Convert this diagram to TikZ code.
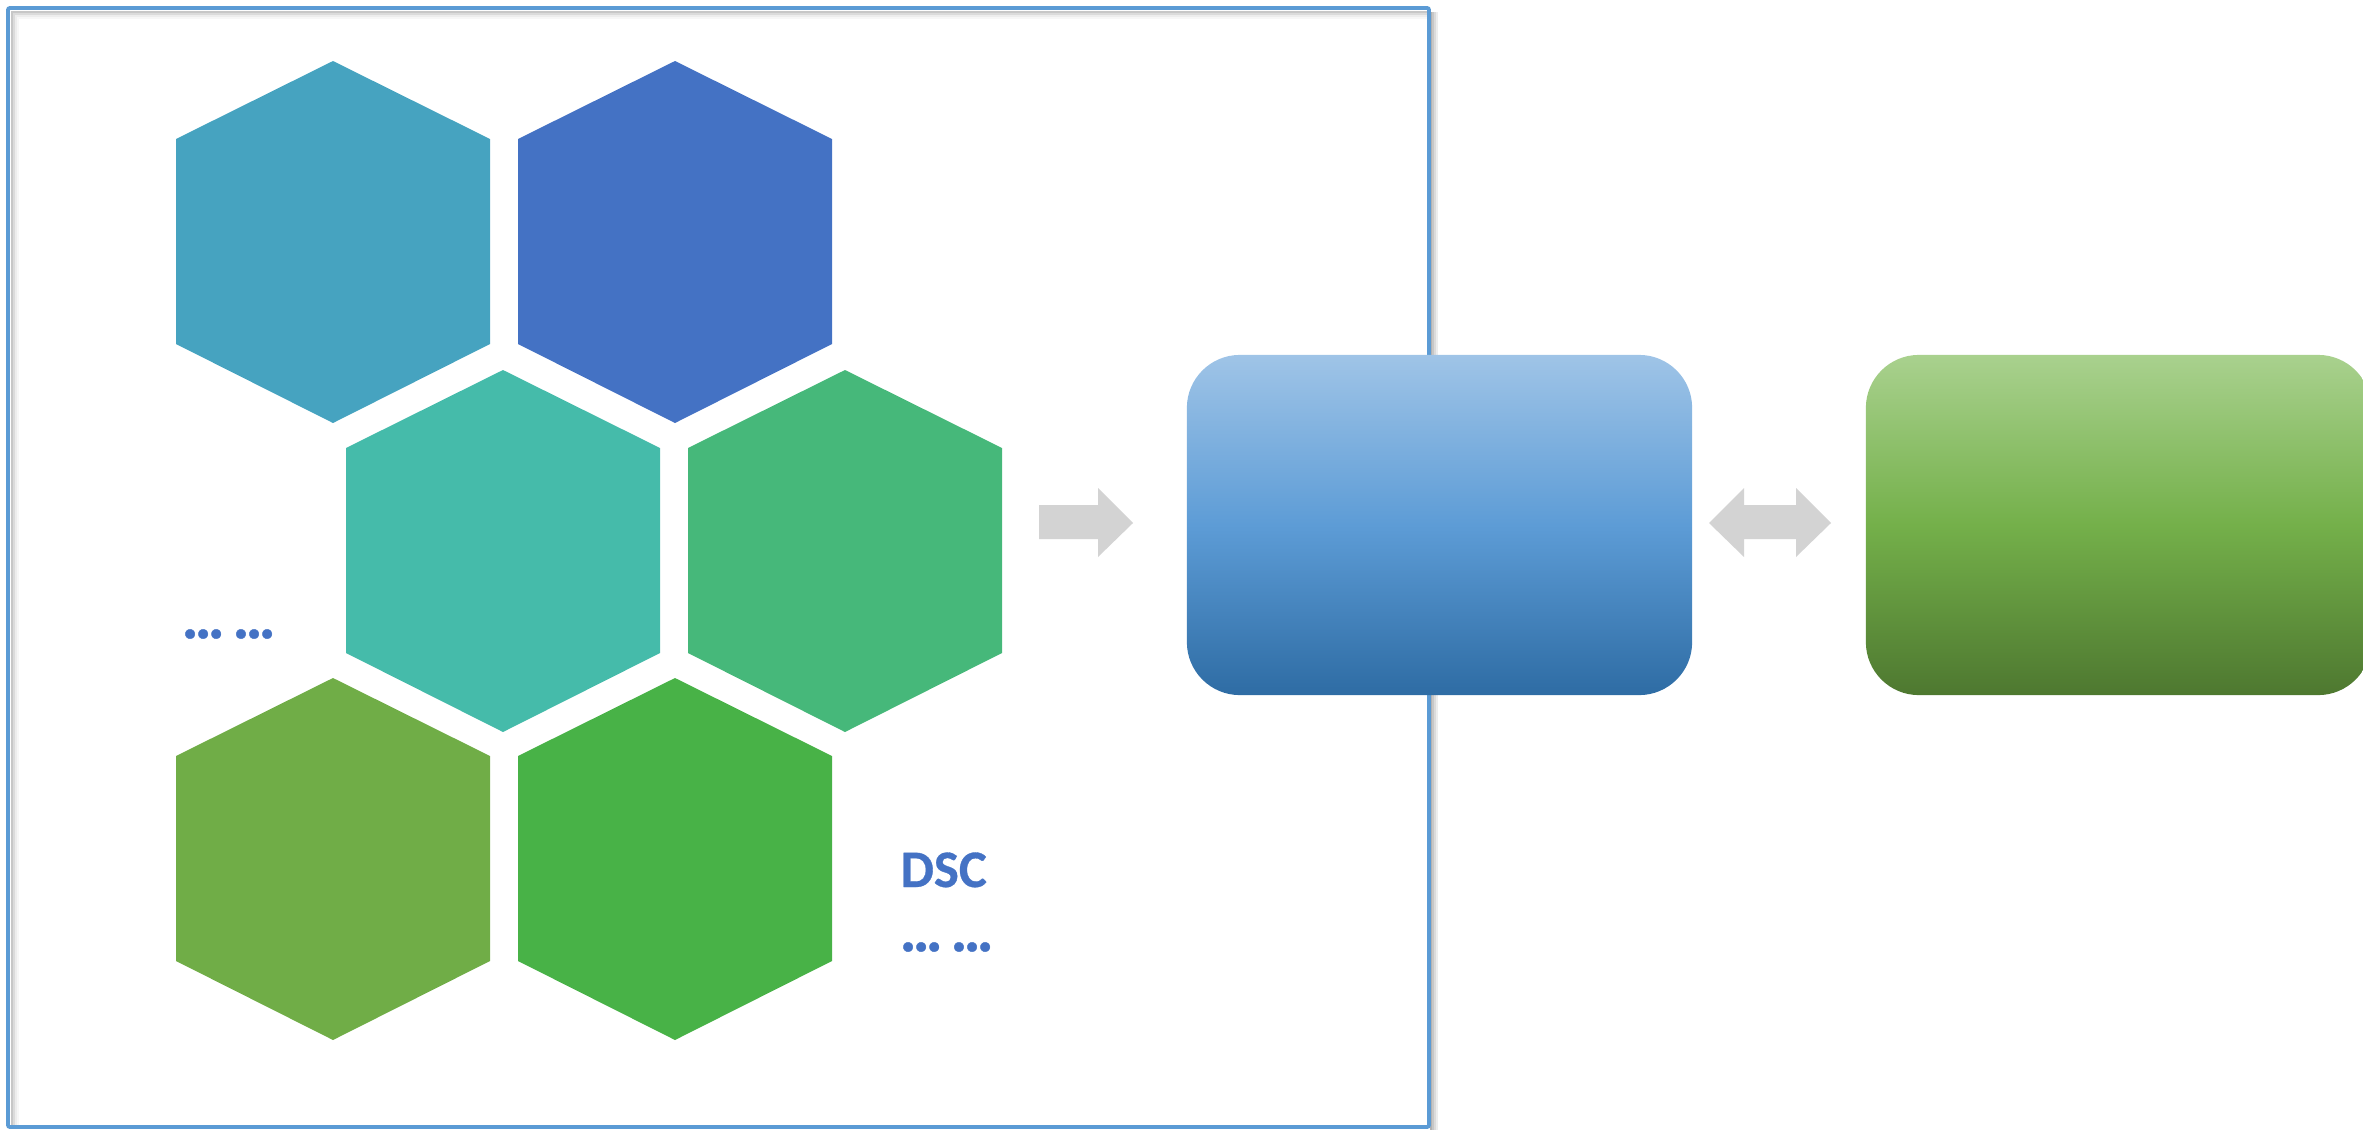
\documentclass[tikz,border=0pt]{standalone}
\usepackage{fontspec}
\setmainfont{Carlito}
\newfontfamily\dscfont[FakeBold=0.6]{Carlito Bold}
\usetikzlibrary{shapes.geometric}
\definecolor{frameblue}{RGB}{91,155,213}
\definecolor{txtblue}{RGB}{68,114,196}
\definecolor{hexA}{RGB}{70,163,192}
\definecolor{hexB}{RGB}{68,114,196}
\definecolor{hexC}{RGB}{69,187,170}
\definecolor{hexD}{RGB}{70,184,122}
\definecolor{hexE}{RGB}{112,173,71}
\definecolor{hexF}{RGB}{72,178,71}
\definecolor{arrowgray}{RGB}{211,211,211}
\definecolor{bTop}{RGB}{159,196,231}
\definecolor{bMid}{RGB}{93,156,214}
\definecolor{bBot}{RGB}{46,108,164}
\definecolor{gTop}{RGB}{169,209,142}
\definecolor{gMid}{RGB}{116,176,74}
\definecolor{gBot}{RGB}{78,120,48}
\newcommand{\hexagon}[3]{%
  \fill[#3] (#1,#2) ++(0,-181) -- ++(157,78) -- ++(0,205) -- ++(-157,79) -- ++(-157,-79) -- ++(0,-205) -- cycle;}
\newcommand{\mydots}{\kern-0.3pt.\kern-1.1pt.\kern-1.1pt.\kern-1.8pt\ .\kern-1.1pt.\kern-1.1pt.}
\tikzset{
  blockbox/.style={rounded corners=0.53cm, minimum width=5.05cm, minimum height=3.40cm, inner sep=0pt, draw=none},
  bluebox/.style={blockbox, top color=bTop, bottom color=bBot, middle color=bMid},
  greenbox/.style={blockbox, top color=gTop, bottom color=gBot, middle color=gMid},
  dsclabel/.style={text=txtblue, font=\dscfont\fontsize{15pt}{18pt}\selectfont, inner sep=0pt, anchor=west},
  dotlabel/.style={text=txtblue, font=\dscfont\fontsize{18pt}{20pt}\selectfont, inner sep=0pt, anchor=west},
  blockarrow/.style={fill=arrowgray, draw=none}
}
\begin{document}
\begin{tikzpicture}[x=0.01cm, y=-0.01cm]
\useasboundingbox (0,0) rectangle (2363,1130);
\clip (0,0) rectangle (2363,1130);
% frame shadow
\foreach \o/\a in {1/0.30,3/0.22,5/0.14,7/0.07}{
  \draw[black, opacity=\a, line width=0.57pt] (1430+\o,12) -- (1430+\o,1130);
}
\foreach \o/\a in {4/0.22,6/0.14,8/0.07,10/0.03}{
  \draw[black, opacity=\a, line width=0.57pt] (8+\o,1127) -- (8+\o,8+\o) -- (1429,8+\o);
}
\draw[frameblue, line width=1.1pt, rounded corners=0.57pt] (8,8) rectangle (1429,1127);
% hexagons
\hexagon{333}{242}{hexA}
\hexagon{675}{242}{hexB}
\hexagon{503}{551}{hexC}
\hexagon{845}{551}{hexD}
\hexagon{333}{859}{hexE}
\hexagon{675}{859}{hexF}
% labels
\node[dotlabel] (dotsL) at (182,634) {\mydots};
\node[dsclabel, anchor=base west] (dsc) at (900,887) {DSC};
\node[dotlabel] (dotsR) at (900,947) {\mydots};
% boxes
\node[bluebox] (blue) at (1439.5,525) {};
\node[greenbox] (green) at (2118.5,525) {};
% arrows
\fill[blockarrow] (1039,505) -- (1098,505) -- (1098,488) -- (1133,523) -- (1098,557) -- (1098,539) -- (1039,539) -- cycle;
\fill[blockarrow] (1709,523) -- (1744,488) -- (1744,505) -- (1796,505) -- (1796,488) -- (1831,523) -- (1796,557) -- (1796,539) -- (1744,539) -- (1744,557) -- cycle;
\end{tikzpicture}
\end{document}
